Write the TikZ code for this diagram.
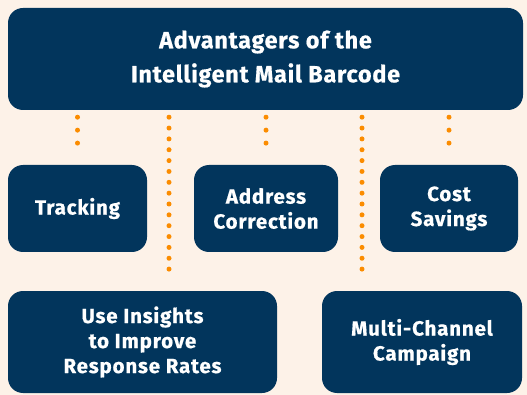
\documentclass[tikz,border=0pt]{standalone}
\usepackage{fontspec}
\setmainfont{Fira Sans}[BoldFeatures={FakeBold=0.6}]
\usetikzlibrary{calc}
\definecolor{navy}{HTML}{02355C}
\definecolor{dotorange}{HTML}{FB8C00}
\definecolor{cream}{HTML}{FDF2E8}
\tikzset{
  panel/.style={fill=navy, draw=none, rounded corners=15pt, text=white,
    font=\bfseries\addfontfeature{LetterSpace=4}\fontsize{20.5}{25}\selectfont,
    align=center, inner sep=0pt},
  dotline/.style={dotorange, line width=5pt, line cap=round,
    dash pattern=on 0pt off #1},
}
\begin{document}
\begin{tikzpicture}[x=1pt, y=-1pt]
  \fill[cream] (0,0) rectangle (527,395);
  \useasboundingbox (0,0) rectangle (527,395);

  % heading panel
  \node[panel, minimum width=515pt, minimum height=102pt,
        font=\bfseries\addfontfeature{LetterSpace=3}\fontsize{23.5}{34}\selectfont] (top) at (265.5,59)
        {Advantagers of the\\Intelligent Mail Barcode};

  % middle row
  \node[panel, minimum width=139pt, minimum height=87pt] (track) at (77.5,208.5) {Tracking};
  \node[panel, minimum width=144pt, minimum height=87pt] (addr) at (266,208.5) {Address\\Correction};
  \node[panel, minimum width=138pt, minimum height=87pt] (cost) at (449,208.5) {Cost\\Savings};

  % bottom row
  \node[panel, minimum width=269pt, minimum height=102pt] (ins) at (142.5,342) {Use Insights\\to Improve\\Response Rates};
  \node[panel, minimum width=200pt, minimum height=102pt] (multi) at (422,342) {Multi-Channel\\Campaign};

  % x positions of the two long links
  \coordinate (lx1) at (169,0);
  \coordinate (lx2) at (362,0);

  % dotted links
  \draw[dotline=12.95pt, shorten <=7pt, shorten >=9pt] (top.south -| track.north) -- (track.north);
  \draw[dotline=12.95pt, shorten <=7pt, shorten >=9pt] (top.south -| addr.north) -- (addr.north);
  \draw[dotline=12.95pt, shorten <=7pt, shorten >=9pt] (top.south -| cost.north) -- (cost.north);
  \draw[dotline=10.85pt, shorten <=7pt, shorten >=11pt] (top.south -| lx1) -- (ins.north -| lx1);
  \draw[dotline=10.85pt, shorten <=7pt, shorten >=11pt] (top.south -| lx2) -- (multi.north -| lx2);
\end{tikzpicture}
\end{document}
